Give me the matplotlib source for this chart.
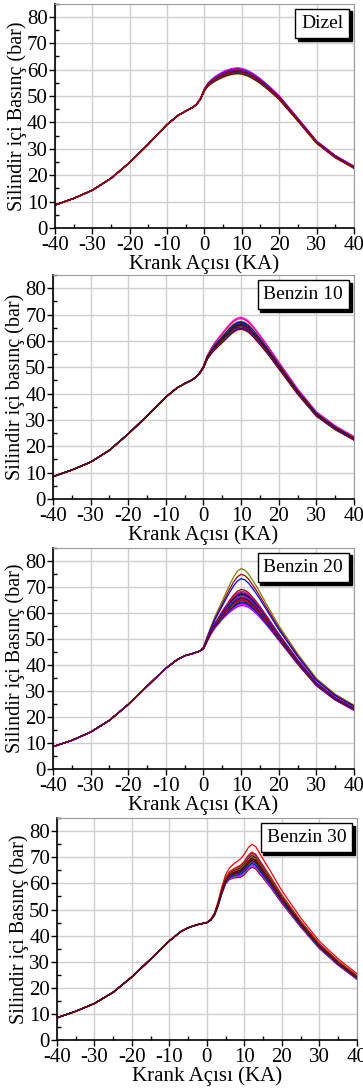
import numpy as np
import matplotlib
matplotlib.use("Agg")
import matplotlib.pyplot as plt
from matplotlib.lines import Line2D
from matplotlib.ticker import MultipleLocator

plt.rcParams['font.family'] = ['Liberation Serif', 'DejaVu Serif']
plt.rcParams['axes.unicode_minus'] = False

# krank acisi noktalari (KA)
ka = [-40, -35, -30, -25, -20, -15, -10, -7, -5, -3, -2, -1, 0, 1, 2, 3, 4, 5,
      6, 7, 8, 9, 10, 11, 12, 13, 14, 15, 17, 20, 25, 30, 35, 40]

# ortalama basinc egrileri (bar)
dizel_p = [8.7, 11.2, 14.3, 18.8, 24.8, 31.8, 39.2, 42.7, 44.3, 45.8, 47.0, 49.0,
           52.3, 54.3, 55.5, 56.5, 57.3, 58.0, 58.6, 59.0, 59.3, 59.4, 59.2, 58.8,
           58.2, 57.4, 56.5, 55.5, 53.2, 49.3, 41.0, 32.5, 27.0, 23.0]
b10_p = [8.5, 11.0, 14.0, 18.5, 24.7, 31.5, 38.7, 42.2, 43.8, 45.2, 46.3, 47.8,
         50.0, 53.5, 55.7, 57.5, 59.0, 60.5, 62.0, 63.5, 64.8, 65.6, 65.9, 65.5,
         64.6, 63.2, 61.5, 59.8, 56.2, 50.3, 40.5, 32.0, 26.8, 22.8]
b20_p = [8.6, 11.0, 14.2, 18.7, 24.8, 31.8, 38.7, 42.0, 43.5, 44.3, 44.8, 45.3,
         46.3, 49.5, 52.5, 55.0, 57.0, 59.0, 60.8, 62.5, 64.0, 65.2, 65.8, 65.6,
         64.8, 63.5, 62.0, 60.3, 56.6, 50.7, 41.2, 32.6, 27.0, 23.0]
b30_p = [8.5, 11.0, 14.0, 18.3, 24.2, 31.0, 38.0, 41.5, 43.0, 44.0, 44.4, 44.7,
         45.0, 46.0, 48.0, 52.0, 57.0, 61.0, 63.0, 63.8, 64.3, 64.8, 66.0, 68.0,
         69.2, 68.5, 66.5, 64.5, 60.5, 54.0, 44.5, 36.0, 29.5, 24.0]

# cevrimler arasi sapmanin aci boyunca dagilimi
dizel_w = [0, 0, 0, 0, 0, 0, 0, 0, 0, 0, 0.05, 0.15, 0.35, 0.55, 0.7, 0.8, 0.88,
           0.93, 0.97, 1, 1, 1, 1, 0.97, 0.93, 0.9, 0.86, 0.82, 0.75, 0.65, 0.5,
           0.42, 0.4, 0.38]
b10_w = [0, 0, 0, 0, 0, 0, 0, 0, 0, 0, 0, 0.05, 0.15, 0.3, 0.45, 0.6, 0.7, 0.8,
         0.88, 0.94, 0.98, 1, 1, 0.97, 0.93, 0.88, 0.83, 0.78, 0.68, 0.57, 0.45,
         0.38, 0.33, 0.3]
b20_w = [0, 0, 0, 0, 0, 0, 0, 0, 0, 0, 0, 0, 0.05, 0.12, 0.2, 0.3, 0.4, 0.5,
         0.62, 0.75, 0.87, 0.96, 1, 0.97, 0.9, 0.82, 0.75, 0.68, 0.55, 0.4, 0.28,
         0.2, 0.16, 0.14]
b30_w = [0, 0, 0, 0, 0, 0, 0, 0, 0, 0, 0, 0, 0, 0.05, 0.1, 0.2, 0.3, 0.4, 0.5,
         0.6, 0.7, 0.8, 0.9, 0.97, 1, 0.97, 0.9, 0.82, 0.7, 0.55, 0.4, 0.32,
         0.28, 0.25]

# her cevrimin tepe basinc farki (bar) ve rengi (cizim sirasiyla)
dizel_d = [1.3, 1.1, -1.0, 0.9, -0.8, 0.7, -0.6, 0.6, -0.5, 0.5, -0.4, 0.4,
           -0.3, 0.3, -0.2, 0.2, -0.1, 0.1, 0.0]
dizel_c = ['#FF00FF', '#FF00FF', '#808000', '#800080', '#800000', '#0000FF',
           '#000000', '#008080', '#FF0000', '#FF00FF', '#008080', '#0000FF',
           '#000080', '#8000FF', '#008000', '#000000', '#800080', '#FF0000',
           '#800000']
b10_d = [3.1, 2.6, -1.5, 1.6, -1.2, 1.3, -1.0, 1.0, -0.8, 0.8, -0.6, 0.6,
         -0.4, 0.4, -0.2, 0.2, 0.0]
b10_c = ['#FF00FF', '#FF0080', '#FF0000', '#808000', '#000000', '#0000FF',
         '#800000', '#000000', '#0000FF', '#008080', '#FF00FF', '#0000FF',
         '#000080', '#800080', '#008000', '#000000', '#800000']
b20_d = [11.2, 9.0, 7.3, -3.0, 3.2, -2.5, 2.5, -2.0, 2.0, -1.6, 1.6, -1.2,
         1.2, -0.9, 0.9, -0.6, 0.6, 0.3, 0.0, -0.3]
b20_c = ['#808000', '#A00000', '#0000FF', '#8000FF', '#800000', '#FF00FF',
         '#FF0080', '#0000FF', '#800080', '#000080', '#0000FF', '#008000',
         '#000000', '#800080', '#800000', '#FF0000', '#FF00FF', '#008080',
         '#0000FF', '#800000']
b30_d = [5.8, 2.8, -3.0, 2.3, -2.5, 1.8, -2.0, 1.4, -1.5, 1.0, -1.0, 0.6,
         -0.6, 0.3, -0.3, 0.0]
b30_c = ['#FF0000', '#FF0000', '#800000', '#800080', '#FF00FF', '#C08000',
         '#008080', '#000000', '#0000FF', '#808000', '#800080', '#FF0000',
         '#008000', '#000000', '#000080', '#800000']

panels = [
    ("Dizel", "Silindir içi Basınç (bar)", dizel_p, dizel_w, dizel_d, dizel_c),
    ("Benzin 10", "Silindir içi basınç (bar)", b10_p, b10_w, b10_d, b10_c),
    ("Benzin 20", "Silindir içi Basınç (bar)", b20_p, b20_w, b20_d, b20_c),
    ("Benzin 30", "Silindir içi Basınç (bar)", b30_p, b30_w, b30_d, b30_c),
]
# eksen yerleri (figur orani)
rects = [[0.151, 0.7906, 0.824, 0.206],
         [0.146, 0.5418, 0.829, 0.2056],
         [0.146, 0.2938, 0.829, 0.2032],
         [0.157, 0.0450, 0.826, 0.2037]]

fig = plt.figure(figsize=(3.63, 10.89), dpi=100)
x = np.array(ka)
for (name, ylab, p, w, d, c), r in zip(panels, rects):
    ax = fig.add_axes(r)
    p = np.array(p)
    w = np.array(w)
    for dd, cc in zip(d, c):
        ax.plot(x, p + dd * w, color=cc, lw=0.9)
    ax.set_xlim(-40, 40)
    ax.set_ylim(0, 85)
    ax.xaxis.set_major_locator(MultipleLocator(10))
    ax.xaxis.set_minor_locator(MultipleLocator(5))
    ax.yaxis.set_major_locator(MultipleLocator(10))
    ax.yaxis.set_minor_locator(MultipleLocator(5))
    ax.grid(True, which='major', color='#cfcfcf', lw=1.0)
    ax.set_axisbelow(True)
    ax.tick_params(which='major', direction='out', length=4, width=1,
                   labelsize=15, pad=1)
    ax.tick_params(axis='x', which='major', pad=2)
    ax.tick_params(which='minor', direction='in', length=3, width=1)
    ax.tick_params(top=False, right=False)
    for s in ['top', 'right']:
        ax.spines[s].set_color('#9a9a9a')
        ax.spines[s].set_linewidth(0.8)
    for s in ['left', 'bottom']:
        ax.spines[s].set_linewidth(1.2)
    ax.set_xlabel("Krank Açısı (KA)", fontsize=15, labelpad=-1)
    ax.set_ylabel(ylab, fontsize=14.5, labelpad=0)
    leg = ax.legend([Line2D([], [], alpha=0)], [name], loc='upper right',
                    handlelength=0, handletextpad=0, fontsize=14,
                    frameon=True, fancybox=False, edgecolor='black',
                    shadow={'color': 'black', 'alpha': 1}, borderaxespad=0.25,
                    borderpad=0.3)
    leg.get_frame().set_linewidth(1.0)

plt.savefig("out.png", dpi=100)
